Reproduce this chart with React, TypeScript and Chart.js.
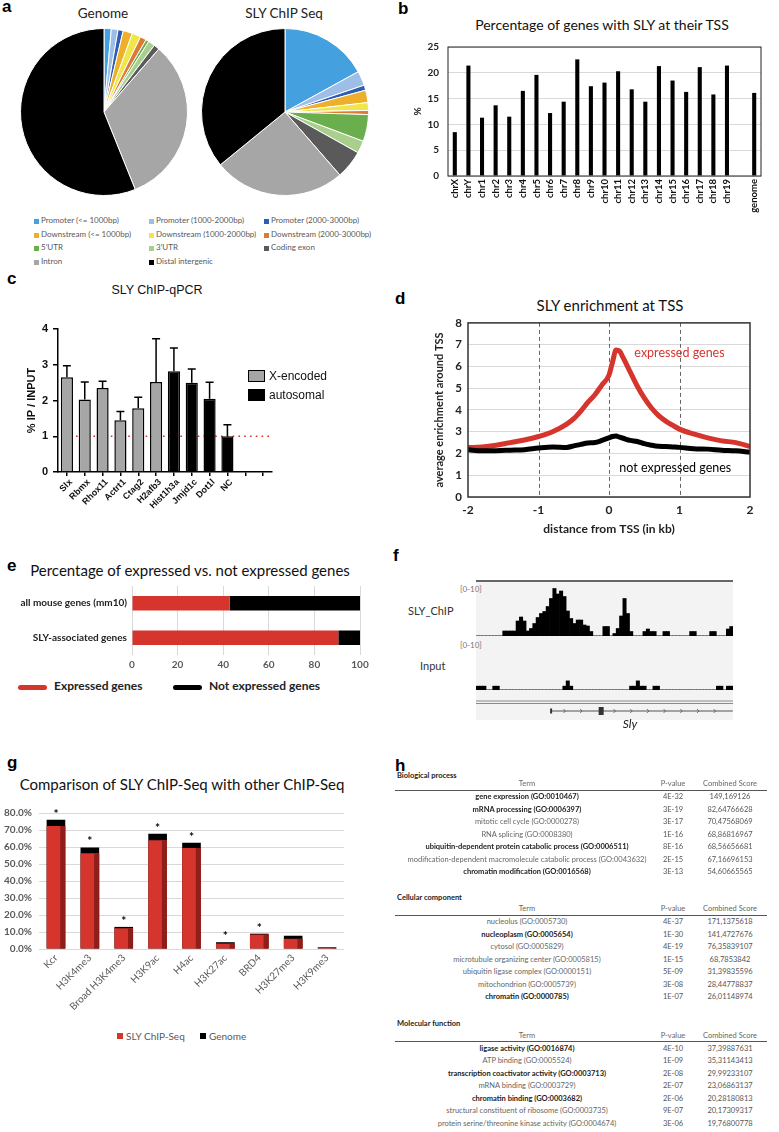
import React, { useEffect, useRef } from "react";
import { Chart, registerables } from "chart.js";
Chart.register(...registerables);

// ---------------- data ----------------
const pieLabels = ["Promoter (<= 1000bp)", "Promoter (1000-2000bp)", "Promoter (2000-3000bp)", "Downstream (<= 1000bp)", "Downstream (1000-2000bp)", "Downstream (2000-3000bp)", "5'UTR", "3'UTR", "Coding exon", "Intron", "Distal intergenic"];
const pieColors = ["#45A0E0", "#9DBEE6", "#2E5DB5", "#EEB02A", "#EFE64C", "#DF7A36", "#6BAE4E", "#A8CF8C", "#5A5A5A", "#A6A6A6", "#000000"];
const genomeShares = [1.4, 1.3, 1.0, 1.8, 1.7, 1.2, 0.6, 1.3, 1.1, 32.5, 56.1];
const slyShares = [17.0, 2.8, 1.0, 2.4, 1.5, 0.8, 5.2, 2.4, 5.5, 25.5, 35.9];

const chrLabels = ["chrX", "chrY", "chr1", "chr2", "chr3", "chr4", "chr5", "chr6", "chr7", "chr8", "chr9", "chr10", "chr11", "chr12", "chr13", "chr14", "chr15", "chr16", "chr17", "chr18", "chr19", "", "genome"];
const chrPct = [8.5, 21.4, 11.3, 13.7, 11.5, 16.5, 19.6, 12.2, 14.4, 22.6, 17.4, 18.1, 20.3, 16.8, 14.4, 21.3, 18.5, 16.3, 21.1, 15.8, 21.4, null, 16.1];

const qpcrGenes = ["Slx", "Rbmx", "Rhox11", "Actrt1", "Ctag2", "H2afb3", "Hist1h3a", "Jmjd1c", "Dot1l", "NC", "", ""];
const qpcrMean = [2.65, 2.03, 2.35, 1.45, 1.78, 2.52, 2.82, 2.50, 2.05, 1.0, null, null];
const qpcrErr = [0.32, 0.49, 0.19, 0.24, 0.31, 1.21, 0.65, 0.38, 0.46, 0.32, 0, 0];
const qpcrGroup = ["X", "X", "X", "X", "X", "X", "A", "A", "A", "A", "A", "A"];

const tssX = [-2, -1.8, -1.6, -1.4, -1.2, -1, -0.8, -0.6, -0.5, -0.4, -0.3, -0.2, -0.1, 0, 0.05, 0.1, 0.15, 0.2, 0.3, 0.4, 0.5, 0.6, 0.7, 0.8, 0.9, 1, 1.2, 1.4, 1.6, 1.8, 2];
const expressedY = [2.27, 2.3, 2.38, 2.5, 2.62, 2.78, 3.0, 3.35, 3.6, 3.95, 4.35, 4.7, 5.15, 5.6, 6.2, 6.75, 6.7, 6.4, 5.75, 5.1, 4.55, 4.1, 3.75, 3.5, 3.3, 3.12, 2.9, 2.72, 2.58, 2.5, 2.32];
const notExpressedY = [2.17, 2.12, 2.13, 2.15, 2.17, 2.25, 2.3, 2.28, 2.35, 2.42, 2.48, 2.5, 2.6, 2.72, 2.78, 2.8, 2.75, 2.7, 2.6, 2.55, 2.45, 2.38, 2.33, 2.32, 2.3, 2.28, 2.22, 2.2, 2.15, 2.12, 2.05];
const tssGuides = [-1, 0, 1];

const exprCategories = ["all mouse genes (mm10)", "SLY-associated genes"];
const expressedPct = [42.8, 90.5];
const notExpressedPct = [57.2, 9.5];

const chipBins = [0, 0, 0, 0, 0, 0, 0, 0, 1, 1, 1, 1, 3, 3.8, 3, 1, 1.5, 2.5, 3.7, 4.5, 4.9, 5.9, 7.5, 9.5, 8.4, 9, 7.9, 5, 3.5, 2.5, 3.2, 3.2, 2.2, 2, 0.9, 0, 0, 0, 1.9, 1.9, 0, 0.5, 1.5, 4, 7.5, 4.5, 0.9, 0, 0, 0, 0.9, 1.4, 0.9, 0.9, 0, 0, 0.9, 0.9, 0, 0, 0, 0, 0, 0, 0.9, 0.9, 0, 0, 0, 0, 0.9, 0.9, 0, 0, 0, 1.4, 1.9];
const inputBins = [0.8, 0.8, 0.8, 0, 0, 0.8, 0.8, 0, 0, 0, 0, 0, 0, 0, 0, 0, 0, 0, 0, 0, 0, 0, 0, 0, 0, 0, 0.8, 1.9, 0.8, 0, 0, 0, 0, 0, 0, 0, 0, 0, 0, 0, 0, 0, 0, 0, 0, 0, 0.8, 0.8, 1.9, 0.8, 0.8, 0, 0, 0.8, 0.8, 0, 0, 0, 0, 0, 0, 0, 0, 0, 0, 0, 0, 0, 0, 0, 0, 0, 0.8, 0.8, 0, 0.8, 0.8];
const slyGene = [22, 37, 76]; // start bin, exon bin, end bin

const markLabels = ["Kcr", "H3K4me3", "Broad H3K4me3", "H3K9ac", "H4ac", "H3K27ac", "BRD4", "H3K27me3", "H3K9me3"];
const slyOverlap = [72.4, 56.3, 12.2, 64.0, 59.4, 3.2, 8.5, 6.0, 0.5];
const genomeOverlap = [76.0, 59.7, 13.0, 67.8, 62.5, 4.0, 9.0, 7.8, 1.0];
const markSignificant = [true, true, true, true, true, true, true, false, false];

const bpTerms = ["gene expression (GO:0010467)", "mRNA processing (GO:0006397)", "mitotic cell cycle (GO:0000278)", "RNA splicing (GO:0008380)", "ubiquitin-dependent protein catabolic process (GO:0006511)", "modification-dependent macromolecule catabolic process (GO:0043632)", "chromatin modification (GO:0016568)"];
const bpPvals = ["4E-32", "3E-19", "3E-17", "1E-16", "8E-16", "2E-15", "3E-13"];
const bpScores = ["149,169126", "82,64766628", "70,47568069", "68,86816967", "68,56656681", "67,16696153", "54,60665565"];
const bpBold = [true, true, false, false, true, false, true];

const ccTerms = ["nucleolus (GO:0005730)", "nucleoplasm (GO:0005654)", "cytosol (GO:0005829)", "microtubule organizing center (GO:0005815)", "ubiquitin ligase complex (GO:0000151)", "mitochondrion (GO:0005739)", "chromatin (GO:0000785)"];
const ccPvals = ["4E-37", "1E-30", "4E-19", "1E-15", "5E-09", "3E-08", "1E-07"];
const ccScores = ["171,1375618", "141,4727676", "76,35839107", "68,7853842", "31,39835596", "28,44778837", "26,01148974"];
const ccBold = [false, true, false, false, false, false, true];

const mfTerms = ["ligase activity (GO:0016874)", "ATP binding (GO:0005524)", "transcription coactivator activity (GO:0003713)", "mRNA binding (GO:0003729)", "chromatin binding (GO:0003682)", "structural constituent of ribosome (GO:0003735)", "protein serine/threonine kinase activity (GO:0004674)"];
const mfPvals = ["4E-10", "1E-09", "2E-08", "2E-07", "2E-06", "9E-07", "3E-06"];
const mfScores = ["37,39887631", "35,31143413", "29,99233107", "23,06863137", "20,28180813", "20,17309317", "19,76800778"];
const mfBold = [true, false, true, false, true, false, false];

// ---------------- style constants ----------------
const LATO = "Lato, 'Open Sans', sans-serif";
const ARIAL = "'Liberation Sans', Arial, sans-serif";
const RED = "#D6352E";
const noPlug = { legend: { display: false }, tooltip: { enabled: false } };

const framePlugin = (color: string, width: number) => ({
  id: "frame",
  afterDatasetsDraw(chart: any) {
    const { ctx, chartArea: a } = chart;
    ctx.save();
    ctx.strokeStyle = color;
    ctx.lineWidth = width;
    ctx.strokeRect(a.left, a.top, a.right - a.left, a.bottom - a.top);
    ctx.restore();
  },
});

// ---------------- helpers ----------------
type Box = { x: number; y: number; w: number; h: number };

function ChartCanvas({ box, config }: { box: Box; config: () => any }) {
  const ref = useRef<HTMLCanvasElement>(null);
  useEffect(() => {
    const c = new Chart(ref.current as HTMLCanvasElement, config());
    return () => c.destroy();
  }, []);
  return (
    <canvas
      ref={ref}
      width={box.w}
      height={box.h}
      style={{ position: "absolute", left: box.x, top: box.y, width: box.w, height: box.h }}
    />
  );
}

function Txt(props: any) {
  const { x, y, size, children, align = "left", color = "#000", weight = 400, family = LATO, italic = false } = props;
  const k = family === ARIAL ? 0.947 : 0.987;
  const tx = align === "center" ? "translateX(-50%)" : align === "right" ? "translateX(-100%)" : "none";
  return (
    <div
      style={{
        position: "absolute",
        left: x,
        top: y - size * k,
        fontSize: size,
        lineHeight: `${size * 1.2}px`,
        fontFamily: family,
        fontWeight: weight,
        fontStyle: italic ? "italic" : "normal",
        color,
        whiteSpace: "nowrap",
        transform: tx,
      }}
    >
      {children}
    </div>
  );
}

function Letter({ x, y, ch }: any) {
  return <Txt x={x} y={y} size={17} weight={700} family={ARIAL}>{ch}</Txt>;
}

// ---------------- chart configs ----------------
const pieConfig = (values: number[]) => () => ({
  type: "pie",
  data: { labels: pieLabels, datasets: [{ data: values, backgroundColor: pieColors, borderColor: "#ffffff", borderWidth: 1 }] },
  options: { responsive: false, animation: false, layout: { padding: 0 }, plugins: noPlug },
});

const chrConfig = () => ({
  type: "bar",
  data: { labels: chrLabels, datasets: [{ data: chrPct, backgroundColor: "#000", barPercentage: 0.3, categoryPercentage: 1 }] },
  options: {
    responsive: false,
    animation: false,
    layout: { padding: { left: 0, top: 8, right: 14, bottom: 0 } },
    plugins: noPlug,
    scales: {
      x: {
        grid: { display: false, drawTicks: false },
        border: { display: false },
        ticks: { autoSkip: false, minRotation: 90, maxRotation: 90, padding: 3, color: "#111", font: { family: "Lato", size: 9.5, weight: "bold" } },
        afterFit: (s: any) => { s.height = 56; },
      },
      y: {
        min: 0,
        max: 25,
        ticks: { stepSize: 5, padding: 9, color: "#222", font: { family: "Lato", size: 10, weight: "bold" } },
        grid: { color: "#d9d9d9", drawTicks: false },
        border: { display: false },
        title: { display: true, text: "%", color: "#222", font: { family: "Lato", size: 10, weight: "bold" }, padding: { top: 17, bottom: 0 } },
        afterFit: (s: any) => { s.width = 53; },
      },
    },
  },
  plugins: [framePlugin("#222", 1)],
});

const qpcrConfig = () => ({
  type: "bar",
  data: {
    labels: qpcrGenes,
    datasets: [{
      data: qpcrMean,
      backgroundColor: qpcrGroup.map((g) => (g === "X" ? "#A6A6A6" : "#000")),
      borderColor: "#000",
      borderWidth: 1.5,
      barPercentage: 0.68,
      categoryPercentage: 1,
    }],
  },
  options: {
    responsive: false,
    animation: false,
    layout: { padding: { left: 0, top: 29, right: 13, bottom: 0 } },
    plugins: noPlug,
    scales: {
      x: {
        grid: { offset: false, drawOnChartArea: false, tickLength: 4, color: "#000", lineWidth: 1.5 },
        border: { color: "#000", width: 1.5 },
        ticks: { autoSkip: false, minRotation: 45, maxRotation: 45, padding: 1, labelOffset: 4, color: "#111", font: { family: "Liberation Sans", size: 9, weight: "bold" } },
        afterFit: (s: any) => { s.height = 43; },
      },
      y: {
        min: 0,
        max: 4,
        ticks: { stepSize: 1, padding: 5, color: "#111", font: { family: "Liberation Sans", size: 11, weight: "bold" } },
        grid: { drawOnChartArea: false, tickLength: 5, color: "#000", lineWidth: 1.5 },
        border: { color: "#000", width: 1.5 },
        title: { display: true, text: "% IP / INPUT", color: "#111", font: { family: "Liberation Sans", size: 11, weight: "bold" }, padding: { top: 25, bottom: 0 } },
        afterFit: (s: any) => { s.width = 58; },
      },
    },
  },
  plugins: [{
    id: "qpcrDeco",
    beforeDatasetsDraw(chart: any) {
      const { ctx, chartArea: a, scales: { y } } = chart;
      const py = y.getPixelForValue(1);
      ctx.save();
      ctx.strokeStyle = "#E0302A";
      ctx.lineWidth = 1.6;
      ctx.setLineDash([1.6, 4.2]);
      ctx.beginPath();
      ctx.moveTo(a.left + 18, py);
      ctx.lineTo(a.right, py);
      ctx.stroke();
      ctx.restore();
    },
    afterDatasetsDraw(chart: any) {
      const { ctx, scales: { y } } = chart;
      const meta = chart.getDatasetMeta(0);
      ctx.save();
      ctx.strokeStyle = "#000";
      ctx.lineWidth = 1.5;
      meta.data.forEach((el: any, i: number) => {
        const m = qpcrMean[i];
        const e = qpcrErr[i];
        if (m == null || !e) return;
        const top = y.getPixelForValue(m + e);
        ctx.beginPath();
        ctx.moveTo(el.x, el.y);
        ctx.lineTo(el.x, top);
        ctx.moveTo(el.x - 4, top);
        ctx.lineTo(el.x + 4, top);
        ctx.stroke();
      });
      ctx.restore();
    },
  }],
});

const tssConfig = () => ({
  type: "line",
  data: {
    datasets: [
      { label: "not expressed genes", data: tssX.map((x, i) => ({ x, y: notExpressedY[i] })), borderColor: "#000", borderWidth: 5, pointRadius: 0, tension: 0.4, cubicInterpolationMode: "monotone" },
      { label: "expressed genes", data: tssX.map((x, i) => ({ x, y: expressedY[i] })), borderColor: RED, borderWidth: 5, pointRadius: 0, tension: 0.4, cubicInterpolationMode: "monotone" },
    ],
  },
  options: {
    responsive: false,
    animation: false,
    layout: { padding: { left: 0, top: 8, right: 25, bottom: 0 } },
    plugins: noPlug,
    scales: {
      x: {
        type: "linear",
        min: -2,
        max: 2,
        ticks: { stepSize: 1, padding: 6, color: "#222", font: { family: "Lato", size: 12, weight: "bold" } },
        grid: { display: false, drawTicks: false },
        border: { display: false },
        title: { display: true, text: "distance from TSS (in kb)", color: "#222", font: { family: "Lato", size: 12, weight: "bold" }, padding: { top: 0, bottom: 4 } },
        afterFit: (s: any) => { s.height = 43; },
      },
      y: {
        min: 0,
        max: 8,
        ticks: { stepSize: 1, padding: 6, color: "#222", font: { family: "Lato", size: 11.5, weight: "bold" } },
        grid: { color: "#d9d9d9", drawTicks: false },
        border: { display: false },
        title: { display: true, text: "average enrichment around TSS", color: "#222", font: { family: "Lato", size: 11, weight: "bold" }, padding: { top: 38, bottom: 0 } },
        afterFit: (s: any) => { s.width = 73; },
      },
    },
  },
  plugins: [{
    id: "tssDeco",
    beforeDatasetsDraw(chart: any) {
      const { ctx, chartArea: a, scales: { x } } = chart;
      ctx.save();
      ctx.setLineDash([4, 3]);
      ctx.strokeStyle = "#666";
      ctx.lineWidth = 1;
      tssGuides.forEach((v) => {
        const px = Math.round(x.getPixelForValue(v)) + 0.5;
        ctx.beginPath();
        ctx.moveTo(px, a.top);
        ctx.lineTo(px, a.bottom);
        ctx.stroke();
      });
      ctx.restore();
    },
    afterDatasetsDraw(chart: any) {
      const { ctx, chartArea: a, scales: { x, y } } = chart;
      ctx.save();
      ctx.strokeStyle = "#333";
      ctx.lineWidth = 1.5;
      ctx.strokeRect(a.left, a.top, a.right - a.left, a.bottom - a.top);
      ctx.font = "12.5px Lato";
      ctx.textAlign = "center";
      ctx.textBaseline = "middle";
      ctx.fillStyle = RED;
      ctx.fillText("expressed genes", x.getPixelForValue(1.0), y.getPixelForValue(6.6));
      ctx.fillStyle = "#000";
      ctx.fillText("not expressed genes", x.getPixelForValue(0.94), y.getPixelForValue(1.34));
      ctx.restore();
    },
  }],
});

const exprConfig = () => ({
  type: "bar",
  data: {
    labels: exprCategories,
    datasets: [
      { label: "Expressed genes", data: expressedPct, backgroundColor: RED, barPercentage: 0.42, categoryPercentage: 1 },
      { label: "Not expressed genes", data: notExpressedPct, backgroundColor: "#000", barPercentage: 0.42, categoryPercentage: 1 },
    ],
  },
  options: {
    indexAxis: "y",
    responsive: false,
    animation: false,
    layout: { padding: { left: 0, top: 8, right: 20, bottom: 0 } },
    plugins: noPlug,
    scales: {
      x: {
        stacked: true,
        min: 0,
        max: 100,
        ticks: { stepSize: 20, padding: 4, color: "#595959", font: { family: "Lato", size: 10, weight: "bold" } },
        grid: { color: "#d9d9d9", drawTicks: false },
        border: { display: false },
        afterFit: (s: any) => { s.height = 20; },
      },
      y: {
        stacked: true,
        ticks: { padding: 5, color: "#222", font: { family: "Lato", size: 10, weight: "bold" } },
        grid: { display: false, drawTicks: false },
        border: { display: false },
        afterFit: (s: any) => { s.width = 132; },
      },
    },
  },
});

const chipConfig = () => ({
  type: "bar",
  data: { labels: chipBins.map((_, i) => String(i)), datasets: [{ data: chipBins, backgroundColor: "#000", barPercentage: 1, categoryPercentage: 1 }] },
  options: {
    responsive: false,
    animation: false,
    plugins: noPlug,
    scales: { x: { display: false }, y: { display: false, min: 0, max: 10 } },
  },
  plugins: [{
    id: "chipBase",
    beforeDatasetsDraw(chart: any) {
      const { ctx, chartArea: a } = chart;
      ctx.save();
      ctx.fillStyle = "#c8c8c8";
      ctx.fillRect(a.left, a.bottom - 1, a.right - a.left, 1);
      ctx.restore();
    },
  }],
});

const inputConfig = () => ({
  type: "bar",
  data: { labels: inputBins.map((_, i) => String(i)), datasets: [{ data: inputBins, backgroundColor: "#000", barPercentage: 1, categoryPercentage: 1 }] },
  options: {
    responsive: false,
    animation: false,
    layout: { padding: { top: 0, bottom: 32, left: 0, right: 0 } },
    plugins: noPlug,
    scales: { x: { display: false }, y: { display: false, min: 0, max: 10 } },
  },
  plugins: [{
    id: "geneModel",
    beforeDatasetsDraw(chart: any) {
      const { ctx, chartArea: a } = chart;
      ctx.save();
      ctx.fillStyle = "#c8c8c8";
      ctx.fillRect(a.left, a.bottom - 1, a.right - a.left, 1);
      ctx.restore();
    },
    afterDatasetsDraw(chart: any) {
      const { ctx, chartArea: a, scales: { x } } = chart;
      ctx.save();
      ctx.fillStyle = "#8a8a8a";
      ctx.fillRect(a.left, a.bottom + 10.5, a.right - a.left, 1);
      ctx.fillRect(a.left, a.bottom + 13, a.right - a.left, 1);
      const gy = a.bottom + 21;
      const x0 = x.getPixelForValue(slyGene[0]);
      const xe = x.getPixelForValue(slyGene[1]);
      const x1 = x.getPixelForValue(slyGene[2]) + 1.5;
      ctx.fillStyle = "#555";
      ctx.fillRect(x0, gy - 0.5, x1 - x0, 1);
      ctx.fillStyle = "#333";
      ctx.fillRect(x0 - 1, gy - 2.5, 2, 5);
      ctx.fillRect(xe - 2.5, gy - 4, 5, 8);
      ctx.strokeStyle = "#555";
      ctx.lineWidth = 0.8;
      for (let b = slyGene[0] + 4; b < slyGene[2]; b += 5) {
        if (Math.abs(b - slyGene[1]) < 2) continue;
        const px = x.getPixelForValue(b);
        ctx.beginPath();
        ctx.moveTo(px - 1, gy - 2);
        ctx.lineTo(px + 1, gy);
        ctx.lineTo(px - 1, gy + 2);
        ctx.stroke();
      }
      ctx.restore();
    },
  }],
});

const marksConfig = () => ({
  type: "bar",
  data: {
    labels: markLabels,
    datasets: [
      { label: "SLY ChIP-Seq", data: slyOverlap, backgroundColor: RED, grouped: false, barPercentage: 0.55, categoryPercentage: 1 },
      { label: "Genome", data: genomeOverlap, backgroundColor: "#000", grouped: false, barPercentage: 0.55, categoryPercentage: 1 },
    ],
  },
  options: {
    responsive: false,
    animation: false,
    layout: { padding: { left: 0, top: 10, right: 36, bottom: 0 } },
    plugins: noPlug,
    scales: {
      x: {
        grid: { display: false, drawTicks: false },
        border: { display: false },
        ticks: { autoSkip: false, minRotation: 45, maxRotation: 45, padding: 3, color: "#595959", font: { family: "Lato", size: 10 } },
        afterFit: (s: any) => { s.height = 71; },
      },
      y: {
        min: 0,
        max: 80,
        ticks: { stepSize: 10, padding: 7, color: "#595959", font: { family: "Lato", size: 10, weight: "bold" }, callback: (v: any) => Number(v).toFixed(1) + "%" },
        grid: { color: "#d9d9d9", drawTicks: false },
        border: { display: false },
        afterFit: (s: any) => { s.width = 39; },
      },
    },
  },
  plugins: [{
    id: "marksDeco",
    afterDatasetsDraw(chart: any) {
      const { ctx, scales: { y } } = chart;
      const metaRed = chart.getDatasetMeta(0);
      ctx.save();
      ctx.fillStyle = "#8E1E1A";
      metaRed.data.forEach((el: any) => {
        const w = el.width;
        const right = el.x + w / 2;
        ctx.fillRect(right - w * 0.27, el.y, w * 0.27, el.base - el.y);
      });
      ctx.fillStyle = "#000";
      ctx.font = "bold 12px Lato";
      ctx.textAlign = "center";
      ctx.textBaseline = "middle";
      metaRed.data.forEach((el: any, i: number) => {
        if (!markSignificant[i]) return;
        const top = y.getPixelForValue(Math.max(slyOverlap[i], genomeOverlap[i]));
        ctx.fillText("*", el.x, top - 6);
      });
      ctx.restore();
    },
  }],
});

// ---------------- table ----------------
function GoSection(props: any) {
  const { title, headingY, headerY, terms, pvals, scores, bold } = props;
  const s = 7.5;
  return (
    <>
      <Txt x={397} y={headingY + 2.6} size={s} weight={700} color="#222">{title}</Txt>
      <Txt x={527} y={headerY + 2.6} size={s} align="center" color="#666">Term</Txt>
      <Txt x={673} y={headerY + 2.6} size={s} align="center" color="#666">P-value</Txt>
      <Txt x={730} y={headerY + 2.6} size={s} align="center" color="#666">Combined Score</Txt>
      <div style={{ position: "absolute", left: 395, top: headerY + 5.5, width: 372, height: 1, background: "#555" }} />
      {terms.map((t: string, i: number) => {
        const yy = headerY + 13 + 12.5 * i + 2.6;
        const b = bold[i];
        const c = b ? "#222" : "#666";
        return (
          <React.Fragment key={t}>
            <Txt x={527} y={yy} size={s} align="center" weight={b ? 700 : 400} color={c}>{t}</Txt>
            <Txt x={673} y={yy} size={s} align="center" color="#555">{pvals[i]}</Txt>
            <Txt x={730} y={yy} size={s} align="center" color="#555">{scores[i]}</Txt>
          </React.Fragment>
        );
      })}
    </>
  );
}

// ---------------- app ----------------
export default function App() {
  const legendRows = [221.5, 235, 248.5, 262];
  const legendCols = [34, 149, 264];
  return (
    <div style={{ position: "absolute", left: 0, top: 0, width: 779, height: 1132, background: "#fff", overflow: "hidden" }}>
      {/* panel a */}
      <Letter x={2} y={13} ch="a" />
      <Txt x={103} y={18.5} size={13.5} align="center" color="#222">Genome</Txt>
      <Txt x={284} y={18.5} size={13.5} align="center" color="#222">SLY ChIP Seq</Txt>
      <ChartCanvas box={{ x: 20, y: 28, w: 168, h: 168 }} config={pieConfig(genomeShares)} />
      <ChartCanvas box={{ x: 201, y: 28, w: 168, h: 168 }} config={pieConfig(slyShares)} />
      {pieLabels.map((lab, i) => {
        const r = Math.floor(i / 3);
        const c = i % 3;
        const cy = legendRows[r];
        return (
          <React.Fragment key={lab}>
            <div style={{ position: "absolute", left: legendCols[c], top: cy - 2.5, width: 5, height: 5, background: pieColors[i] }} />
            <Txt x={legendCols[c] + 7} y={cy + 2.8} size={8} color="#595959">{lab}</Txt>
          </React.Fragment>
        );
      })}

      {/* panel b */}
      <Letter x={398} y={15} ch="b" />
      <Txt x={602} y={31} size={14} align="center" color="#111">Percentage of genes with SLY at their TSS</Txt>
      <ChartCanvas box={{ x: 395, y: 32, w: 380, h: 200 }} config={chrConfig} />

      {/* panel c */}
      <Letter x={7} y={285} ch="c" />
      <Txt x={157} y={295} size={12.5} align="center" family={ARIAL} color="#111">SLY ChIP-qPCR</Txt>
      <ChartCanvas box={{ x: 0, y: 300, w: 285, h: 215 }} config={qpcrConfig} />
      <div style={{ position: "absolute", left: 248, top: 370, width: 17, height: 12, background: "#A6A6A6", border: "1.5px solid #000", boxSizing: "border-box" }} />
      <Txt x={269} y={380.5} size={12} family={ARIAL} color="#111">X-encoded</Txt>
      <div style={{ position: "absolute", left: 248, top: 389, width: 17, height: 12, background: "#000" }} />
      <Txt x={269} y={399} size={12} family={ARIAL} color="#111">autosomal</Txt>

      {/* panel d */}
      <Letter x={395} y={305} ch="d" />
      <Txt x={610} y={311} size={15} align="center" color="#111">SLY enrichment at TSS</Txt>
      <ChartCanvas box={{ x: 395, y: 310, w: 380, h: 230 }} config={tssConfig} />

      {/* panel e */}
      <Letter x={7} y={572} ch="e" />
      <Txt x={190} y={576} size={15} align="center" color="#111">Percentage of expressed vs. not expressed genes</Txt>
      <ChartCanvas box={{ x: 0, y: 575, w: 380, h: 100 }} config={exprConfig} />
      <div style={{ position: "absolute", left: 18, top: 684.5, width: 29, height: 5, borderRadius: 3, background: RED }} />
      <Txt x={54} y={691} size={12} weight={700} color="#222">Expressed genes</Txt>
      <div style={{ position: "absolute", left: 173, top: 684.5, width: 29, height: 5, borderRadius: 3, background: "#000" }} />
      <Txt x={209} y={691} size={12} weight={700} color="#222">Not expressed genes</Txt>

      {/* panel f */}
      <Letter x={393} y={562} ch="f" />
      <div style={{ position: "absolute", left: 476, top: 581, width: 257, height: 139, background: "#F3F3F3" }} />
      <div style={{ position: "absolute", left: 476, top: 580, width: 257, height: 2, background: "#666" }} />
      <Txt x={460} y={593} size={8} color="#777">[0-10]</Txt>
      <Txt x={408} y={615} size={11} color="#333">SLY_ChIP</Txt>
      <Txt x={460} y={649} size={8} color="#777">[0-10]</Txt>
      <Txt x={420} y={670} size={11} color="#333">Input</Txt>
      <ChartCanvas box={{ x: 476, y: 586, w: 257, h: 50 }} config={chipConfig} />
      <ChartCanvas box={{ x: 476, y: 642, w: 257, h: 80 }} config={inputConfig} />
      <Txt x={630} y={729} size={12} align="center" italic color="#222">Sly</Txt>

      {/* panel g */}
      <Letter x={7} y={769} ch="g" />
      <Txt x={182} y={790} size={15} align="center" color="#111">Comparison of SLY ChIP-Seq with other ChIP-Seq</Txt>
      <ChartCanvas box={{ x: 0, y: 800, w: 380, h: 220 }} config={marksConfig} />
      <div style={{ position: "absolute", left: 117, top: 1033, width: 6, height: 6, background: RED }} />
      <Txt x={126} y={1039.5} size={10} color="#595959">SLY ChIP-Seq</Txt>
      <div style={{ position: "absolute", left: 200, top: 1033, width: 6, height: 6, background: "#000" }} />
      <Txt x={209} y={1039.5} size={10} color="#595959">Genome</Txt>

      {/* panel h */}
      <Letter x={395} y={772} ch="h" />
      <GoSection title="Biological process" headingY={776} headerY={784} terms={bpTerms} pvals={bpPvals} scores={bpScores} bold={bpBold} />
      <GoSection title="Cellular component" headingY={898} headerY={909} terms={ccTerms} pvals={ccPvals} scores={ccScores} bold={ccBold} />
      <GoSection title="Molecular function" headingY={1023.5} headerY={1035.7} terms={mfTerms} pvals={mfPvals} scores={mfScores} bold={mfBold} />
    </div>
  );
}
